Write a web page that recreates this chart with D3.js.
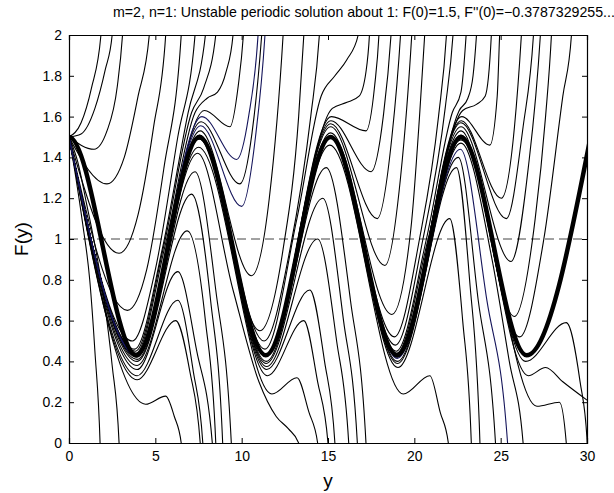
<!DOCTYPE html>
<html>
<head>
<meta charset="utf-8">
<script src="https://cdn.jsdelivr.net/npm/d3@7"></script>
<style>
  body { margin: 0; background: #fff; }
  text { font-family: "Liberation Sans", Arial, sans-serif; }
</style>
</head>
<body>
<div id="chart"></div>
<script>
// values: [y, F(y)]
var xTicks = [0, 5, 10, 15, 20, 25, 30]
var yTicks = [0, 0.2, 0.4, 0.6, 0.8, 1, 1.2, 1.4, 1.6, 1.8, 2]
var refLevel = [1]

var periodic = [[-0.4, 1.49], [0, 1.5], [3.9, 0.43], [7.55, 1.5], [11.4, 0.43], [15.15, 1.5], [19.0, 0.43], [22.7, 1.5], [26.5, 0.43], [30.25, 1.52]]

var upperCurves = [
  [[0, 1.5], [0.7, 1.57], [1.3, 1.74], [1.85, 2.0], [2.05, 2.3]],
  [[0, 1.5], [0.7, 1.515], [1.5, 1.64], [2.1, 1.83], [2.5, 2.0], [2.7, 2.3]],
  [[0, 1.5], [1.45, 1.44], [2.2, 1.53], [2.8, 1.75], [3.1, 2.0], [3.3, 2.3]],
  [[0, 1.5], [2.2, 1.27], [3.2, 1.4], [4.0, 1.7], [4.65, 2.0], [4.85, 2.3]],
  [[0, 1.5], [2.9, 0.93], [4.0, 1.12], [4.9, 1.55], [5.6, 2.0], [5.8, 2.3]],
  [[0, 1.5], [3.38, 0.65], [4.5, 0.85], [5.5, 1.35], [6.5, 2.0], [6.7, 2.3]],
  [[0, 1.5], [3.67, 0.5], [5.0, 0.85], [6.3, 1.5], [7.3, 2.0], [7.5, 2.3]],
  [[0, 1.5], [3.8, 0.46], [5.4, 0.95], [6.9, 1.62], [7.9, 2.0], [8.1, 2.3]],
  [[0, 1.5], [3.85, 0.45], [5.5, 0.97], [7.1, 1.62], [7.8, 1.74], [8.5, 2.0], [8.7, 2.3]],
  [[0, 1.5], [3.87, 0.44], [5.6, 0.98], [7.3, 1.62], [8.0, 1.69], [8.6, 1.72], [9.1, 1.82], [9.5, 2.0], [9.7, 2.3]],
  [[0, 1.5], [3.88, 0.438], [7.85, 1.63], [9.32, 1.55], [9.8, 1.75], [10.1, 2.0], [10.3, 2.3]],
  [[0, 1.5], [3.89, 0.434], [7.65, 1.575], [9.9, 1.27], [10.6, 1.52], [11.16, 2.0], [11.4, 2.3]],
  [[0, 1.5], [3.9, 0.431], [7.6, 1.53], [10.57, 0.82], [11.6, 1.2], [12.4, 2.0], [12.6, 2.3]],
  [[0, 1.5], [3.9, 0.43], [7.57, 1.51], [11.05, 0.55], [12.4, 0.95], [13.3, 1.6], [13.6, 2.0], [13.8, 2.3]],
  [[0, 1.5], [3.9, 0.43], [7.56, 1.505], [11.3, 0.5], [12.8, 0.95], [14.0, 1.6], [14.5, 2.0], [14.7, 2.3]],
  [[0, 1.5], [3.9, 0.43], [7.56, 1.503], [11.35, 0.46], [13.2, 1.1], [14.6, 1.7], [15.4, 1.8], [16.1, 1.88], [16.75, 2.0], [16.95, 2.3]],
  [[0, 1.5], [3.9, 0.43], [7.55, 1.5], [11.4, 0.43], [15.25, 1.64], [16.1, 1.67], [16.8, 1.7], [17.2, 1.82], [17.4, 2.0], [17.55, 2.3]],
  [[0, 1.5], [3.9, 0.43], [7.55, 1.5], [11.4, 0.43], [15.2, 1.6], [17.2, 1.53], [17.7, 1.75], [17.95, 2.0], [18.1, 2.3]],
  [[0, 1.5], [3.9, 0.43], [7.55, 1.5], [11.4, 0.43], [15.17, 1.58], [17.5, 1.33], [18.2, 1.6], [18.65, 2.0], [18.85, 2.3]],
  [[0, 1.5], [3.9, 0.43], [7.55, 1.5], [11.4, 0.43], [15.16, 1.565], [17.85, 1.1], [18.7, 1.5], [19.2, 2.0], [19.4, 2.3]],
  [[0, 1.5], [3.9, 0.43], [7.55, 1.5], [11.4, 0.43], [15.15, 1.55], [18.3, 0.87], [19.2, 1.3], [19.85, 2.0], [20.05, 2.3]],
  [[0, 1.5], [3.9, 0.43], [7.55, 1.5], [11.4, 0.43], [15.15, 1.52], [18.7, 0.63], [19.8, 1.05], [20.3, 1.6], [20.6, 2.0], [20.8, 2.3]],
  [[0, 1.5], [3.9, 0.43], [7.55, 1.5], [11.4, 0.43], [15.15, 1.505], [18.85, 0.52], [20.3, 1.0], [21.4, 1.6], [21.86, 2.0], [22.05, 2.3]],
  [[0, 1.5], [3.9, 0.43], [7.55, 1.5], [11.4, 0.43], [15.15, 1.502], [18.9, 0.48], [20.5, 1.0], [21.8, 1.65], [22.24, 2.0], [22.45, 2.3]],
  [[0, 1.5], [3.9, 0.43], [7.55, 1.5], [11.4, 0.43], [15.15, 1.501], [18.95, 0.45], [20.7, 1.0], [22.2, 1.62], [22.7, 1.72], [23.0, 2.0], [23.2, 2.3]],
  [[0, 1.5], [3.9, 0.43], [7.55, 1.5], [11.4, 0.43], [15.15, 1.5], [18.98, 0.44], [20.8, 1.0], [22.6, 1.63], [23.1, 1.69], [23.4, 1.8], [23.6, 2.0], [23.8, 2.3]],
  [[0, 1.5], [3.9, 0.43], [7.55, 1.5], [11.4, 0.43], [15.15, 1.5], [19.0, 0.43], [22.8, 1.63], [23.6, 1.66], [24.1, 1.7], [24.46, 2.0], [24.6, 2.3]],
  [[0, 1.5], [3.9, 0.43], [7.55, 1.5], [11.4, 0.43], [15.15, 1.5], [19.0, 0.43], [22.75, 1.6], [24.37, 1.46], [24.8, 1.7], [24.94, 2.0], [25.1, 2.3]],
  [[0, 1.5], [3.9, 0.43], [7.55, 1.5], [11.4, 0.43], [15.15, 1.5], [19.0, 0.43], [22.72, 1.58], [25.04, 1.2], [25.8, 1.55], [26.2, 2.0], [26.4, 2.3]],
  [[0, 1.5], [3.9, 0.43], [7.55, 1.5], [11.4, 0.43], [15.15, 1.5], [19.0, 0.43], [22.7, 1.57], [25.33, 1.1], [26.3, 1.55], [26.9, 2.0], [27.1, 2.3]],
  [[0, 1.5], [3.9, 0.43], [7.55, 1.5], [11.4, 0.43], [15.15, 1.5], [19.0, 0.43], [22.7, 1.55], [25.6, 0.89], [26.6, 1.35], [27.3, 2.0], [27.5, 2.3]],
  [[0, 1.5], [3.9, 0.43], [7.55, 1.5], [11.4, 0.43], [15.15, 1.5], [19.0, 0.43], [22.7, 1.53], [25.8, 0.62], [27.0, 1.1], [27.6, 1.6], [27.94, 2.0], [28.1, 2.3]],
  [[0, 1.5], [3.9, 0.43], [7.55, 1.5], [11.4, 0.43], [15.15, 1.5], [19.0, 0.43], [22.7, 1.51], [26.1, 0.52], [27.5, 1.0], [28.6, 1.7], [29.1, 2.0], [29.3, 2.3]]
]

var navyCurves = [
  [[0, 1.5], [3.89, 0.435], [7.7, 1.6], [9.71, 1.39], [10.4, 1.6], [10.95, 2.0], [11.15, 2.3]],
  [[0, 1.5], [3.9, 0.432], [7.63, 1.555], [10.0, 1.16], [10.8, 1.5], [11.35, 2.0], [11.55, 2.3]],
  [[0, 1.5], [3.9, 0.43], [7.55, 1.5], [11.4, 0.43], [15.15, 1.5], [19.01, 0.415], [22.67, 1.44], [24.2, 0.7], [25.4, 0.0], [25.5, -0.3]]
]

var lowerCurves = [
  [[0, 1.5], [0.4, 1.3], [0.8, 1.07], [1.2, 0.8], [1.5, 0.45], [1.8, 0], [1.9, -0.3]],
  [[0, 1.5], [0.5, 1.38], [1.0, 1.18], [1.5, 0.97], [2.0, 0.72], [2.5, 0.38], [2.9, 0], [3.0, -0.3]],
  [[0, 1.5], [4.44, 0.19], [5.6, 0.23], [6.1, 0.13], [6.5, 0], [6.6, -0.3]],
  [[0, 1.5], [3.95, 0.31], [6.18, 0.6], [7.0, 0.35], [7.6, 0], [7.7, -0.3]],
  [[0, 1.5], [3.95, 0.33], [6.3, 0.7], [7.2, 0.35], [7.75, 0], [7.85, -0.3]],
  [[0, 1.5], [3.95, 0.36], [6.3, 0.84], [7.4, 0.45], [8.3, 0], [8.4, -0.3]],
  [[0, 1.5], [3.95, 0.38], [6.85, 1.04], [7.9, 0.6], [8.5, 0], [8.6, -0.3]],
  [[0, 1.5], [3.95, 0.4], [7.1, 1.22], [8.2, 0.7], [8.9, 0], [9.0, -0.3]],
  [[0, 1.5], [3.95, 0.41], [7.3, 1.33], [8.5, 0.75], [9.4, 0], [9.5, -0.3]],
  [[0, 1.5], [3.93, 0.42], [7.45, 1.42], [9.5, 0.75], [11.0, 0.3], [12.0, 0.13], [12.7, 0.07], [13.3, 0], [13.4, -0.3]],
  [[0, 1.5], [3.92, 0.425], [7.5, 1.45], [11.75, 0.24], [13.2, 0.32], [13.9, 0.15], [14.4, 0], [14.5, -0.3]],
  [[0, 1.5], [3.9, 0.43], [7.54, 1.49], [11.5, 0.33], [13.6, 0.6], [14.4, 0.3], [15.0, 0], [15.1, -0.3]],
  [[0, 1.5], [3.9, 0.43], [7.54, 1.49], [11.45, 0.36], [13.95, 0.75], [14.8, 0.4], [15.4, 0], [15.5, -0.3]],
  [[0, 1.5], [3.9, 0.43], [7.545, 1.495], [11.45, 0.375], [14.4, 1.0], [15.5, 0.5], [16.2, 0], [16.3, -0.3]],
  [[0, 1.5], [3.9, 0.43], [7.55, 1.497], [11.42, 0.39], [14.7, 1.2], [15.9, 0.6], [16.7, 0], [16.8, -0.3]],
  [[0, 1.5], [3.9, 0.43], [7.55, 1.5], [11.42, 0.4], [14.9, 1.35], [16.3, 0.7], [17.2, 0], [17.3, -0.3]],
  [[0, 1.5], [3.9, 0.43], [7.55, 1.5], [11.4, 0.43], [15.1, 1.46], [19.36, 0.24], [20.9, 0.33], [21.5, 0.15], [21.97, 0], [22.1, -0.3]],
  [[0, 1.5], [3.9, 0.43], [7.55, 1.5], [11.4, 0.43], [15.15, 1.5], [19.05, 0.37], [22.05, 1.1], [22.8, 0.6], [23.3, 0], [23.4, -0.3]],
  [[0, 1.5], [3.9, 0.43], [7.55, 1.5], [11.4, 0.43], [15.15, 1.5], [19.03, 0.39], [22.44, 1.35], [23.2, 0.8], [23.8, 0], [23.9, -0.3]],
  [[0, 1.5], [3.9, 0.43], [7.55, 1.5], [11.4, 0.43], [15.15, 1.5], [19.02, 0.4], [22.55, 1.4], [23.7, 0.7], [24.7, 0], [24.8, -0.3]],
  [[0, 1.5], [3.9, 0.43], [7.55, 1.5], [11.4, 0.43], [15.15, 1.5], [19.0, 0.42], [22.7, 1.47], [24.5, 0.9], [25.5, 0.4], [26.3, 0], [26.4, -0.3]],
  [[0, 1.5], [3.9, 0.43], [7.55, 1.5], [11.4, 0.43], [15.15, 1.5], [19.0, 0.43], [22.7, 1.485], [27.1, 0.18], [28.4, 0.2], [28.8, 0], [28.9, -0.3]],
  [[0, 1.5], [3.9, 0.43], [7.55, 1.5], [11.4, 0.43], [15.15, 1.5], [19.0, 0.43], [22.7, 1.5], [26.45, 0.4], [28.8, 0.59], [29.6, 0.3], [30.0, 0.02], [30.1, -0.2]],
  [[0, 1.5], [3.9, 0.43], [7.55, 1.5], [11.4, 0.43], [15.15, 1.5], [19.0, 0.43], [22.7, 1.49], [26.6, 0.33], [27.6, 0.37], [28.6, 0.3], [30.0, 0.21]]
]

var width = 518, height = 408

var svg = d3.select("#chart")
  .append("svg")
  .attr("width", 614)
  .attr("height", 493)

var g = svg.append("g")
  .attr("transform", "translate(69,35)")

var x = d3.scaleLinear().domain([0, 30]).range([0, width])
var y = d3.scaleLinear().domain([0, 2]).range([height, 0])

g.append("clipPath").attr("id", "clip")
  .append("rect").attr("width", width).attr("height", height)

var line = d3.line()
  .x(function (d) { return x(d[0]) })
  .y(function (d) { return y(d[1]) })
  .curve(d3.curveMonotoneX)

var plot = g.append("g").attr("clip-path", "url(#clip)")

plot.selectAll(".ref")
  .data(refLevel)
  .enter()
  .append("line")
  .attr("x1", 0).attr("x2", width)
  .attr("y1", function (d) { return y(d) })
  .attr("y2", function (d) { return y(d) })
  .attr("stroke", "#444")
  .attr("stroke-width", 1)
  .attr("stroke-dasharray", "9,5")

plot.selectAll(".up")
  .data(upperCurves)
  .enter()
  .append("path")
  .attr("d", line)
  .attr("fill", "none")
  .attr("stroke", "#000")
  .attr("stroke-width", 1.1)

plot.selectAll(".low")
  .data(lowerCurves)
  .enter()
  .append("path")
  .attr("d", line)
  .attr("fill", "none")
  .attr("stroke", "#000")
  .attr("stroke-width", 1.1)

plot.selectAll(".navy")
  .data(navyCurves)
  .enter()
  .append("path")
  .attr("d", line)
  .attr("fill", "none")
  .attr("stroke", "#14145a")
  .attr("stroke-width", 1.1)

plot.append("path")
  .datum(periodic)
  .attr("d", line)
  .attr("fill", "none")
  .attr("stroke", "#000")
  .attr("stroke-width", 4.5)

// axes: ticks point inwards on all four sides, like the original figure
var fmt = function (d) { return String(+d.toFixed(1)) }

var xAxis = g.append("g")
  .attr("transform", "translate(0," + height + ")")
  .call(d3.axisBottom(x).tickValues(xTicks).tickSize(-5).tickPadding(8).tickFormat(fmt))
var yAxis = g.append("g")
  .call(d3.axisLeft(y).tickValues(yTicks).tickSize(-5).tickPadding(7).tickFormat(fmt))
var xTop = g.append("g")
  .call(d3.axisTop(x).tickValues(xTicks).tickSize(-5).tickFormat(""))
var yRight = g.append("g")
  .attr("transform", "translate(" + width + ",0)")
  .call(d3.axisRight(y).tickValues(yTicks).tickSize(-5).tickFormat(""))

g.selectAll(".domain").attr("stroke", "#000").attr("stroke-width", 1.2)
g.selectAll(".tick line").attr("stroke", "#000")
g.selectAll(".tick text")
  .attr("fill", "#000")
  .style("font-family", "'Liberation Sans', Arial, sans-serif")
  .style("font-size", "14px")

svg.append("text")
  .attr("x", 113)
  .attr("y", 17)
  .style("font-size", "14.2px")
  .text("m=2, n=1: Unstable periodic solution about 1: F(0)=1.5, F''(0)=\u22120.3787329255...")

svg.append("text")
  .attr("x", 69 + width / 2)
  .attr("y", 487)
  .attr("text-anchor", "middle")
  .style("font-size", "19px")
  .text("y")

svg.append("text")
  .attr("transform", "translate(28," + (35 + height / 2) + ") rotate(-90)")
  .attr("text-anchor", "middle")
  .style("font-size", "19px")
  .text("F(y)")
</script>
</body>
</html>
